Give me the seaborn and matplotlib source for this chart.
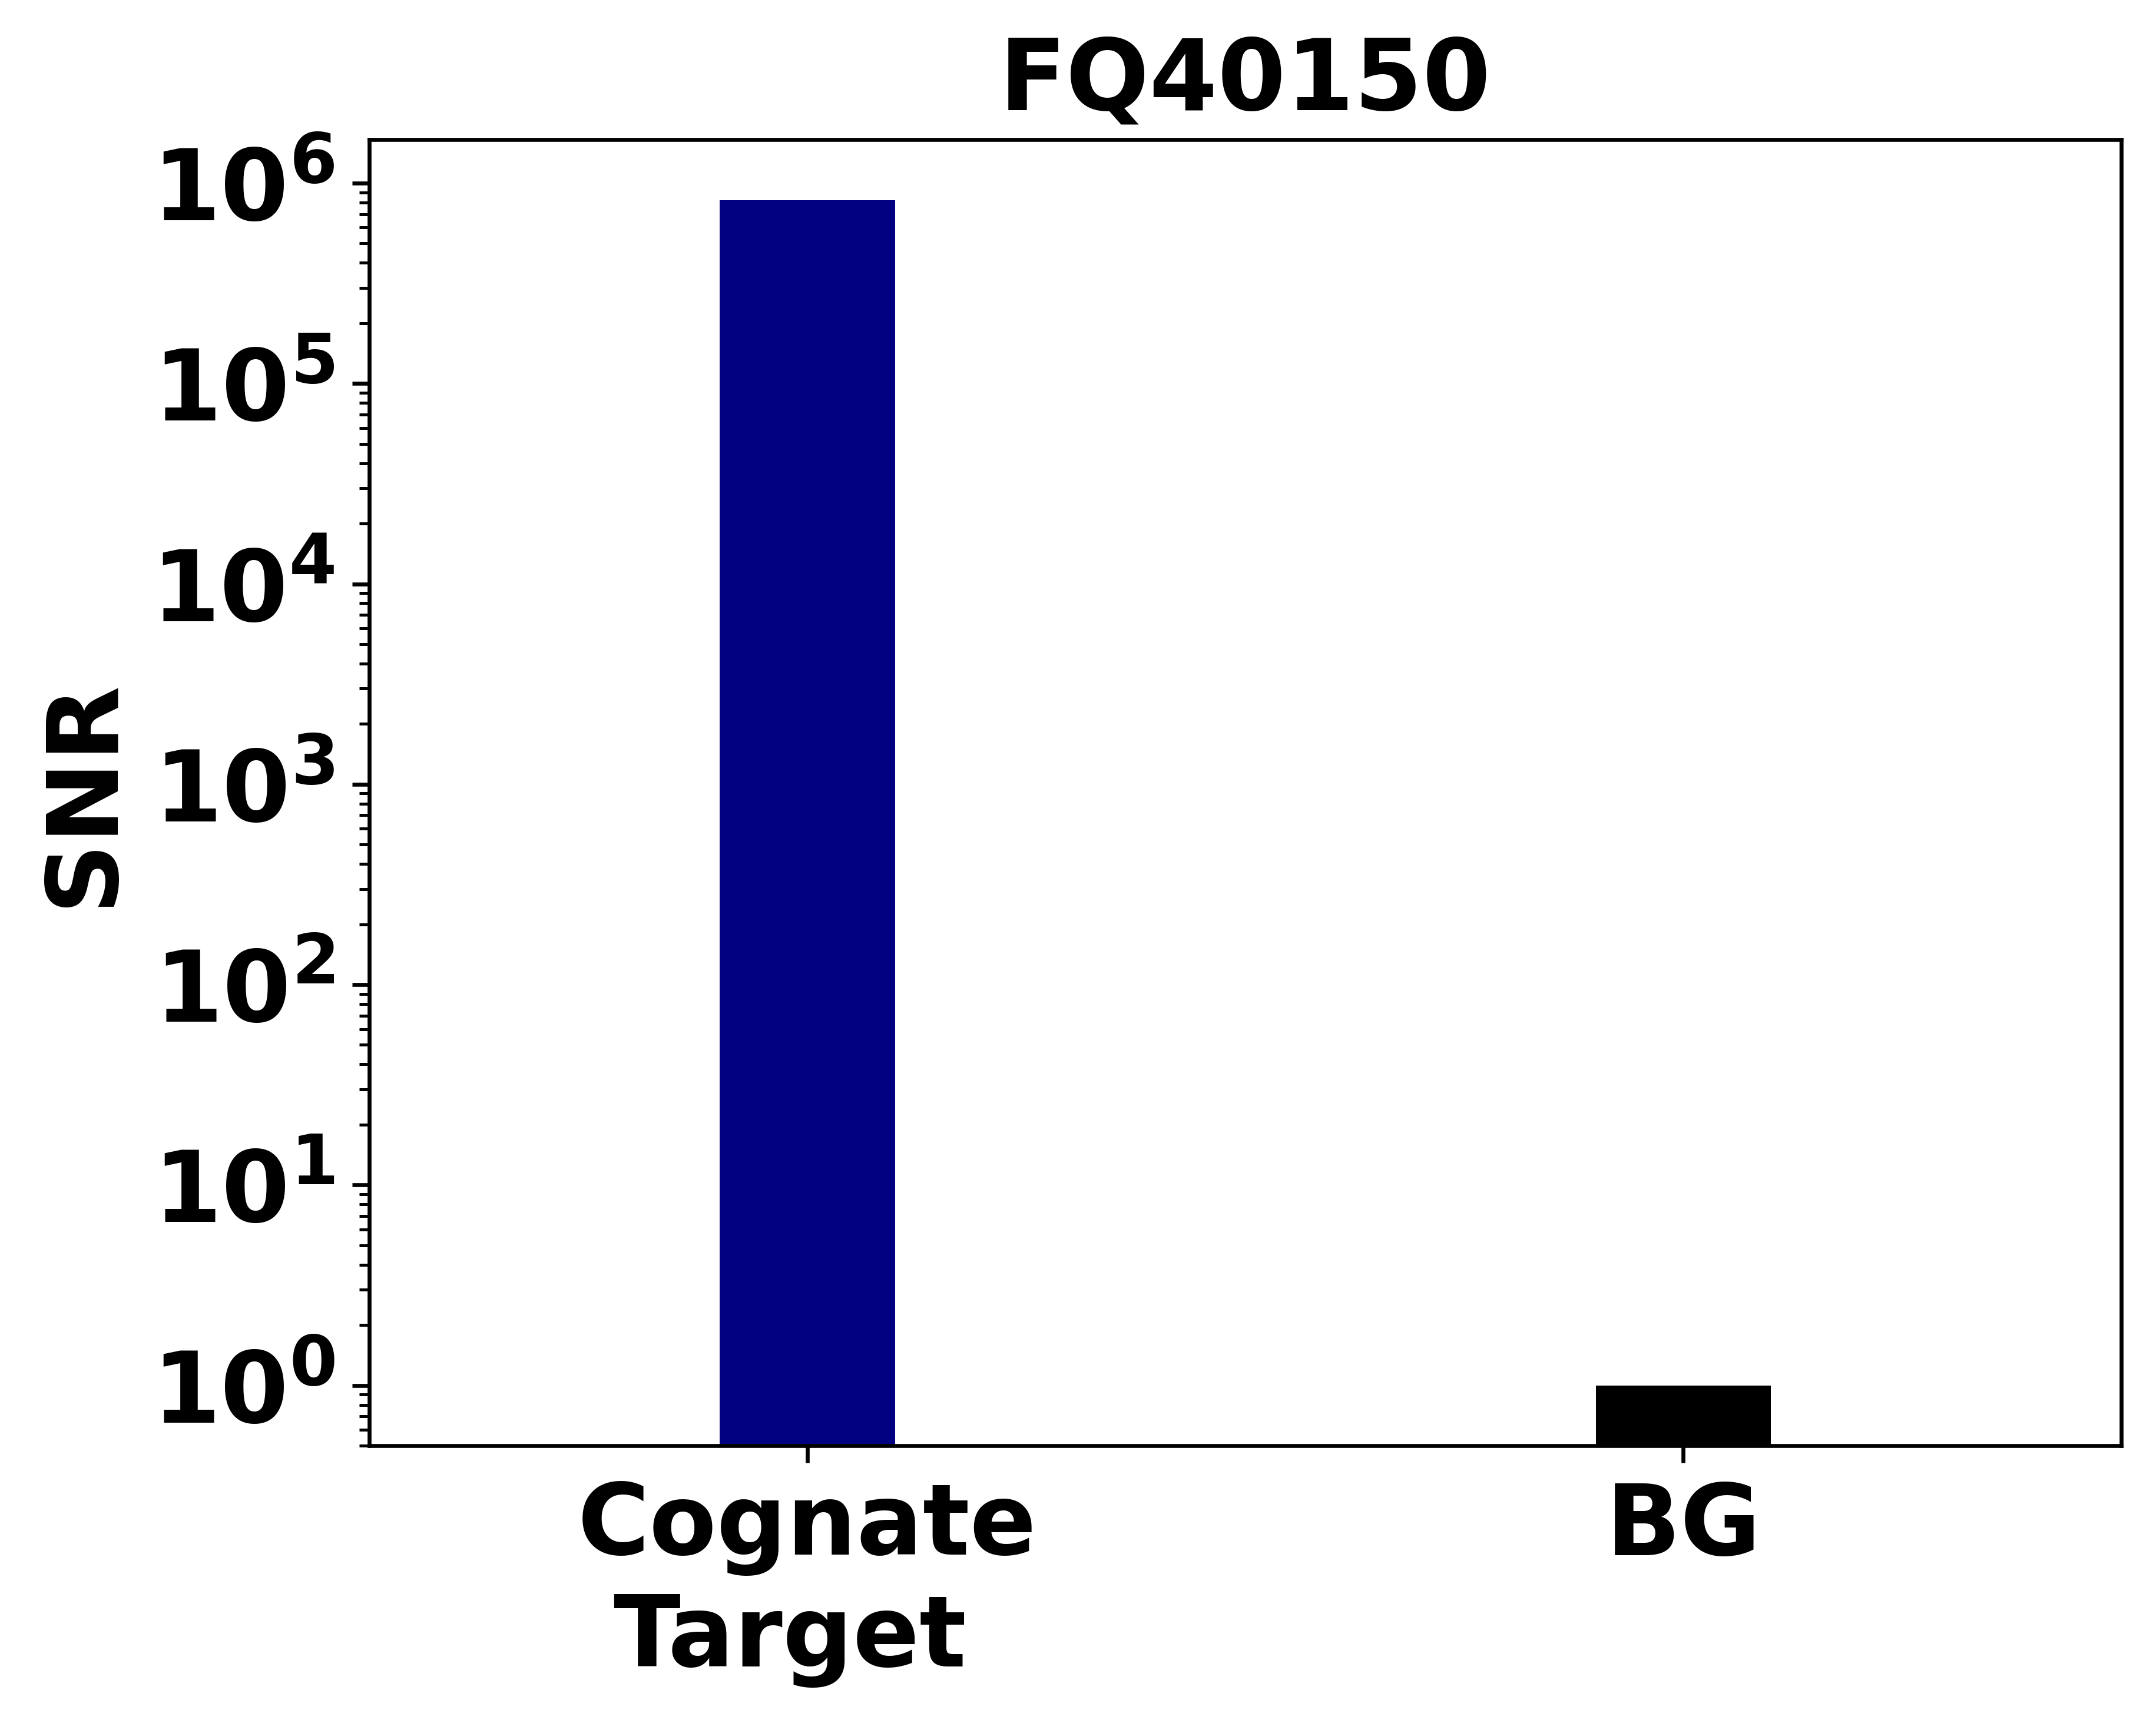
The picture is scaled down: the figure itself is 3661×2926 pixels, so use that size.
import matplotlib
matplotlib.use("Agg")
import matplotlib.pyplot as plt
import seaborn as sns

# data
categories = ["Cognate\nTarget ", "BG"]
snr_values = [8.2e5, 1.0]
bar_colors = ["#000080", "#000000"]

plt.rcParams["font.family"] = ["DejaVu Sans"]
plt.rcParams["font.weight"] = "bold"

fig = plt.figure(figsize=(3661 / 600, 2926 / 600), dpi=600)
ax = fig.add_axes([627 / 3661, 1 - 2455 / 2926, (3602 - 627) / 3661, (2455 - 237) / 2926])

ax.set_yscale("log")
sns.barplot(x=categories, y=snr_values, hue=categories, palette=bar_colors,
            width=0.2, saturation=1, legend=False, ax=ax)

ax.set_ylim(0.5, 1.65e6)
ax.set_xlim(-0.5, 1.5)
ax.set_title("FQ40150", fontsize=20, fontweight="bold")
ax.set_ylabel("SNR", fontsize=20, fontweight="bold")
ax.set_xlabel("")
for lab in ax.get_xticklabels() + ax.get_yticklabels():
    lab.set_fontsize(20)
    lab.set_fontweight("bold")

fig.savefig("out.png", dpi=600)
